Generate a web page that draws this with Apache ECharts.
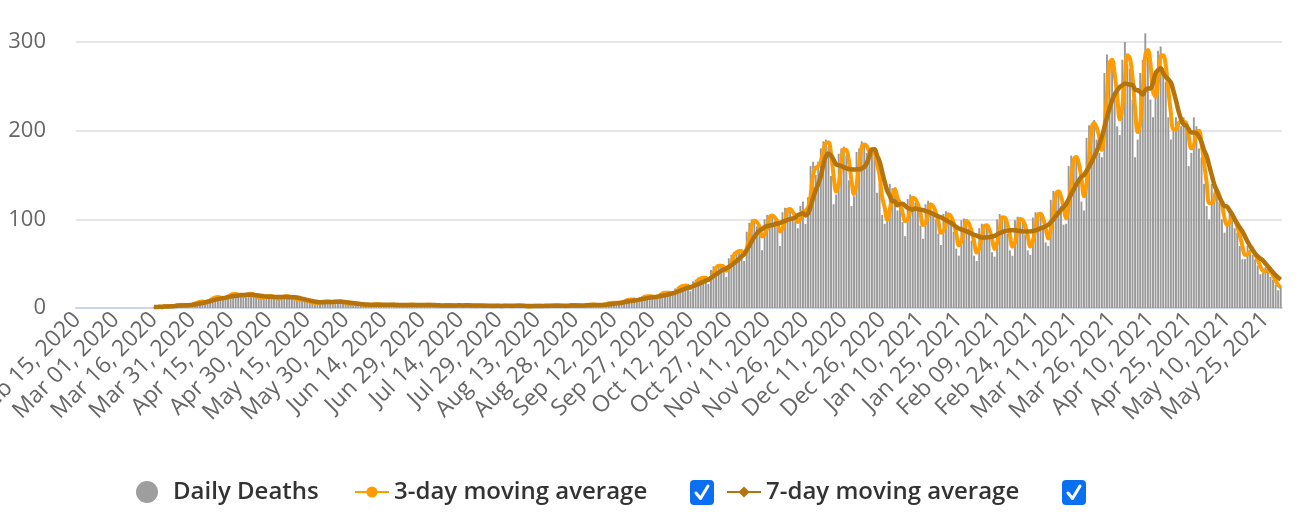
<!DOCTYPE html>
<html>
<head>
<meta charset="utf-8">
<script src="https://cdn.jsdelivr.net/npm/echarts@6/dist/echarts.min.js"></script>
<style>
html,body{margin:0;padding:0;background:#ffffff;}
#chart{width:1300px;height:520px;}
</style>
</head>
<body>
<div id="chart"></div>
<script>
// ---- data ----
const firstDay = '2020-02-15';
const dayCount = 472;
const monthNames = ['Jan','Feb','Mar','Apr','May','Jun','Jul','Aug','Sep','Oct','Nov','Dec'];
const seriesNames = ['Daily Deaths', '3-day moving average', '7-day moving average'];
const yTicks = [0, 100, 200, 300];

// daily deaths, one value per day from Feb 15, 2020 (no data before Mar 16, 2020)
const dailyDeaths = [
  null,null,null,null,null,null,null,null,null,null,
  null,null,null,null,null,null,null,null,null,null,
  null,null,null,null,null,null,null,null,null,null,
  1,1,2,1,3,2,2,
  2,3,4,3,4,3,2,
  4,5,6,7,8,7,6,
  9,11,12,13,12,11,10,
  13,15,16,16,15,14,13,
  14,16,17,15,14,12,11,
  11,13,14,14,13,11,10,
  11,14,14,13,12,11,10,
  9,10,9,8,7,6,6,
  5,7,7,7,8,7,6,
  6,8,8,7,6,5,4,
  4,5,5,4,4,3,3,
  3,4,5,4,4,3,3,
  3,4,4,4,3,3,2,
  3,4,4,4,3,3,3,
  3,4,4,3,3,3,2,
  2,3,4,3,3,3,2,
  3,3,3,4,3,2,2,
  2,3,3,3,2,2,2,
  2,3,3,2,3,2,2,
  2,3,3,3,2,2,1,
  2,3,3,2,3,2,2,
  2,3,3,3,3,2,2,
  2,3,4,3,3,3,2,
  2,4,4,4,4,3,2,
  3,5,5,6,6,6,6,
  5,8,9,9,10,10,9,
  7,12,13,13,14,13,12,
  9,15,17,17,18,17,17,
  14,22,24,25,26,25,24,
  19,30,32,33,35,34,33,
  27,43,47,47,49,47,44,
  35,56,60,63,65,65,63,
  53,86,96,100,99,92,85,
  65,100,105,104,104,98,91,
  70,108,113,112,110,103,98,
  90,115,120,95,125,160,165,
  150,165,180,188,190,182,149,
  117,128,174,180,182,172,144,
  115,126,176,180,188,185,175,
  168,180,178,130,140,105,95,
  98,140,135,128,110,116,97,
  81,123,128,122,119,110,93,
  78,117,121,113,110,100,84,
  71,106,109,102,99,86,67,
  59,99,101,94,90,76,59,
  53,90,95,93,92,79,63,
  58,100,106,101,99,84,65,
  59,99,103,99,96,83,65,
  60,102,108,106,105,91,74,
  70,122,132,131,132,115,94,
  95,160,172,170,170,148,120,
  110,192,206,208,212,190,175,
  170,265,286,278,276,238,205,
  195,280,300,275,270,235,170,
  190,265,280,310,283,235,215,
  265,290,295,270,255,215,190,
  200,215,210,205,215,205,160,
  175,215,205,180,170,140,115,
  100,140,130,130,120,100,85,
  95,110,100,90,85,70,55,
  55,70,65,60,55,48,38,
  40,46,42,35,32,26,20,
  24
];

// ---- derived ----
function buildDates(start, n) {
  const out = [];
  const d0 = new Date(start + 'T00:00:00Z');
  for (let i = 0; i < n; i++) {
    const d = new Date(d0.getTime() + i * 86400000);
    const dd = String(d.getUTCDate()).padStart(2, '0');
    out.push(monthNames[d.getUTCMonth()] + ' ' + dd + ', ' + d.getUTCFullYear());
  }
  return out;
}
function trailingAverage(values, n) {
  return values.map((v, i) => {
    if (v == null) return null;
    let s = 0, c = 0;
    for (let k = Math.max(0, i - n + 1); k <= i; k++) {
      if (values[k] != null) { s += values[k]; c++; }
    }
    return Math.round(s / c * 100) / 100;
  });
}
const categories = buildDates(firstDay, dayCount);
const avg3 = trailingAverage(dailyDeaths, 3);
const avg7 = trailingAverage(dailyDeaths, 7);

const FONT = "'Open Sans', 'DejaVu Sans', sans-serif";
const chart = echarts.init(document.getElementById('chart'), null, {renderer: 'canvas'});

function checkbox(x, y) {
  return {
    type: 'group', left: x, top: y,
    children: [
      {type: 'rect', shape: {x: 0, y: 0, width: 24, height: 25, r: 4}, style: {fill: '#0b6ff2'}},
      {type: 'polyline', shape: {points: [[6, 13], [10.5, 18.5], [18, 6]]},
       style: {stroke: '#ffffff', lineWidth: 3, fill: null, lineCap: 'round', lineJoin: 'round'}}
    ]
  };
}

const legendText = {fontSize: 24, color: '#333333', fontWeight: 600, fontFamily: FONT};

chart.setOption({
  animation: false,
  backgroundColor: '#ffffff',
  textStyle: {fontFamily: FONT},
  grid: {left: 76, right: 18, top: 42, bottom: 212, outerBoundsMode: 'none', containLabel: false},
  legend: [
    {data: [seriesNames[0]], left: 131, top: 475, icon: 'circle', itemWidth: 42, itemHeight: 22,
     selectedMode: false, textStyle: legendText, itemStyle: {color: '#9e9e9e'}},
    {data: [seriesNames[1]], left: 349, top: 475, itemWidth: 34, itemHeight: 14,
     selectedMode: false, textStyle: legendText},
    {data: [seriesNames[2]], left: 721, top: 475, itemWidth: 34, itemHeight: 14,
     selectedMode: false, textStyle: legendText}
  ],
  graphic: [checkbox(690, 480), checkbox(1062, 480)],
  xAxis: {
    type: 'category',
    data: categories,
    boundaryGap: true,
    axisLine: {show: true, lineStyle: {color: '#ccd6eb', width: 2}},
    axisTick: {show: false},
    axisLabel: {
      interval: 14, rotate: 45, margin: 8,
      color: '#666666', fontSize: 23, fontFamily: FONT
    },
    splitLine: {show: false}
  },
  yAxis: {
    type: 'value',
    min: yTicks[0], max: yTicks[yTicks.length - 1], interval: yTicks[1] - yTicks[0],
    axisLine: {show: false},
    axisTick: {show: false},
    axisLabel: {margin: 30, color: '#666666', fontSize: 22, fontFamily: FONT},
    splitLine: {show: true, lineStyle: {color: '#e6e6e6', width: 2}}
  },
  series: [
    {
      name: seriesNames[0], type: 'bar', data: dailyDeaths,
      itemStyle: {color: '#999999'}, barCategoryGap: '25%', clip: false
    },
    {
      name: seriesNames[1], type: 'line', data: avg3,
      smooth: 0.4, showSymbol: false, symbol: 'circle', connectNulls: false,
      lineStyle: {color: '#ff9c00', width: 4},
      itemStyle: {color: '#ff9c00'}
    },
    {
      name: seriesNames[2], type: 'line', data: avg7,
      smooth: 0.4, showSymbol: false, symbol: 'diamond', connectNulls: false,
      lineStyle: {color: '#b5730c', width: 4.5},
      itemStyle: {color: '#b5730c'}
    }
  ]
});
</script>
</body>
</html>
